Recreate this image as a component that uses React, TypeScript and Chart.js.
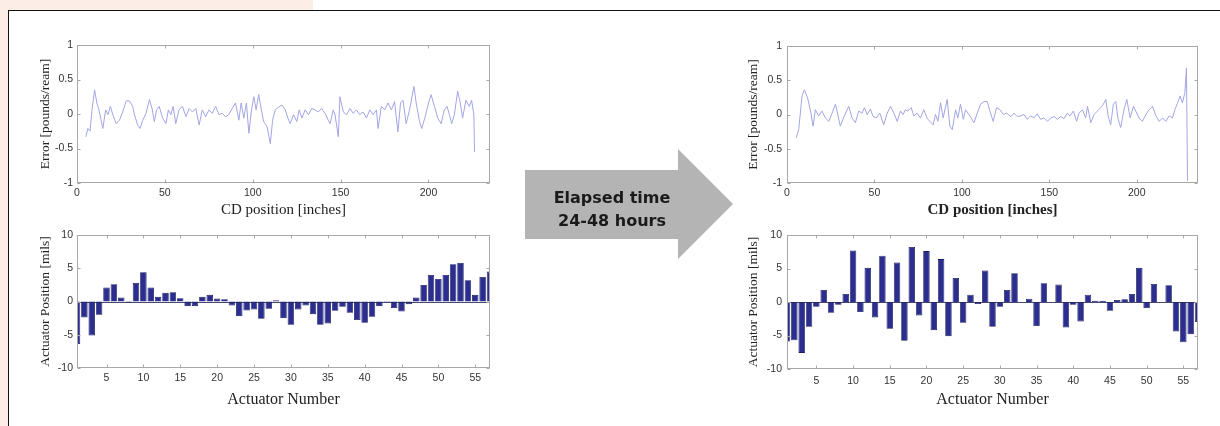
import React, { useEffect, useRef } from "react";
import { Chart, registerables } from "chart.js";
Chart.register(...registerables);

// ---------- tick labels ----------
const ERR_TICKS = [-1, -0.5, 0, 0.5, 1];
const CD_TICKS = [0, 50, 100, 150, 200];
const POS_TICKS = [-10, -5, 0, 5, 10];
const ACT_TICKS = [5, 10, 15, 20, 25, 30, 35, 40, 45, 50, 55];

// ---------- actuator categories ----------
const ACTUATORS = [
  1, 2, 3, 4, 5, 6, 7, 8, 9, 10, 11, 12, 13, 14, 15, 16, 17, 18, 19, 20,
  21, 22, 23, 24, 25, 26, 27, 28, 29, 30, 31, 32, 33, 34, 35, 36, 37, 38, 39, 40,
  41, 42, 43, 44, 45, 46, 47, 48, 49, 50, 51, 52, 53, 54, 55, 56, 57,
];

// actuator positions [mils] before (left) and after 24-48 h (right)
const BEFORE_POSITIONS = [
  -6.4, -2.4, -5.1, -2.0, 2.1, 2.6, 0.6, -0.2, 2.8, 4.4,
  2.1, 0.7, 1.3, 1.4, 0.5, -0.7, -0.7, 0.7, 1.0, 0.45,
  0.35, -0.6, -2.2, -1.35, -1.2, -2.6, -1.1, 0.2, -2.5, -3.5,
  -1.2, -0.6, -1.9, -3.5, -3.3, -1.4, -0.8, -1.7, -2.8, -3.2,
  -2.3, -0.7, -0.1, -1.0, -1.5, -0.4, 0.6, 2.5, 4.0, 3.4,
  4.0, 5.6, 5.8, 3.2, 1.0, 3.7, 4.5,
];
const AFTER_POSITIONS = [
  -5.9, -5.7, -7.6, -3.7, -0.7, 1.8, -1.6, -0.4, 1.2, 7.7,
  -1.5, 5.1, -2.3, 6.9, -4.0, 5.9, -5.8, 8.2, -2.0, 7.6,
  -4.2, 6.4, -5.1, 3.6, -3.1, 1.1, -0.3, 4.7, -3.7, -0.7,
  1.8, 4.3, 0.0, 0.5, -3.6, 2.8, 0.0, 2.6, -3.8, -0.4,
  -2.9, 1.1, 0.2, 0.2, -1.3, 0.3, 0.4, 1.2, 5.1, -0.9,
  2.7, 0.0, 2.5, -4.4, -6.0, -4.8, -3.0,
];

// ---------- CD error profiles ----------
const BEFORE_CD = [
  5.0, 6.2, 7.4, 8.5, 10.0, 11.3, 12.5, 14.7, 16.3, 17.6, 19.0, 20.4, 22.3, 24.2, 26.0,
  28.0, 29.8, 31.7, 32.7, 34.5, 35.9, 37.4, 39.3, 41.2, 42.7, 44.0, 45.3, 46.8, 48.7, 50.6,
  52.0, 53.4, 54.7, 56.2, 58.0, 60.0, 62.0, 63.8, 65.7, 67.6, 69.5, 71.3, 73.2, 75.1, 77.0,
  78.9, 80.8, 82.7, 84.5, 86.4, 88.3, 90.2, 92.1, 93.4, 94.9, 96.4, 97.8, 99.3, 100.6, 101.9,
  103.4, 104.9, 106.2, 108.1, 110.0, 111.3, 112.8, 114.7, 116.6, 118.5, 120.0, 121.3, 123.2, 125.1, 126.4,
  128.0, 129.8, 131.7, 133.6, 135.5, 137.3, 139.2, 141.1, 143.0, 144.0, 145.8, 146.8, 148.7, 149.6, 151.5,
  153.4, 155.3, 157.2, 159.0, 160.9, 162.8, 164.7, 166.6, 168.5, 170.4, 171.3, 173.2, 175.1, 177.0, 178.9,
  180.7, 182.6, 184.1, 185.5, 187.3, 189.2, 191.7, 193.0, 194.9, 196.2, 198.1, 200.0, 201.5, 203.4, 205.3,
  207.2, 209.0, 210.6, 211.9, 213.2, 214.7, 216.6, 218.1, 219.4, 221.3, 223.2, 224.5, 225.8, 226.2,
];
const BEFORE_ERROR = [
  -0.33, -0.21, -0.25, 0.05, 0.35, 0.16, 0.06, -0.21, 0.06, -0.01, 0.11, -0.01, -0.14, -0.09, 0.03,
  0.19, 0.19, 0.11, -0.01, -0.16, -0.21, -0.09, 0.01, 0.21, 0.08, -0.11, 0.06, 0.11, -0.06, -0.14,
  0.06, -0.01, 0.11, -0.14, 0.06, 0.11, -0.04, 0.08, 0.03, 0.08, -0.16, 0.06, -0.04, 0.06, 0.01,
  0.11, -0.01, 0.01, -0.04, -0.01, 0.08, 0.16, -0.09, 0.16, -0.06, 0.16, -0.28, 0.06, 0.25, 0.06,
  0.28, 0.06, -0.11, -0.18, -0.43, -0.09, 0.06, 0.1, 0.13, 0.06, -0.06, -0.14, -0.01, -0.11, 0.06,
  -0.06, 0.06, -0.01, 0.08, 0.06, 0.03, 0.08, 0.01, -0.09, -0.14, 0.06, -0.01, -0.33, 0.25, 0.03,
  -0.01, 0.08, 0.01, 0.06, -0.01, 0.03, -0.06, 0.06, -0.01, 0.06, -0.21, 0.11, 0.06, 0.16, 0.06,
  0.18, -0.26, 0.16, 0.2, -0.14, 0.06, 0.4, 0.16, -0.11, -0.21, -0.04, 0.16, 0.28, 0.11, -0.06,
  -0.14, 0.06, 0.11, -0.01, -0.14, -0.01, 0.33, 0.16, -0.06, 0.2, 0.11, 0.2, 0.0, -0.55,
];
const AFTER_CD = [
  5.3, 6.7, 8.6, 9.9, 11.8, 13.7, 14.9, 16.2, 18.1, 20.0, 21.9, 23.9, 25.8, 27.7, 28.6,
  30.5, 32.8, 35.3, 37.2, 39.1, 41.0, 42.9, 44.3, 45.8, 47.7, 49.2, 51.1, 53.1, 55.3, 57.3,
  59.2, 61.1, 63.0, 64.9, 66.4, 67.7, 69.1, 71.0, 72.5, 74.4, 76.3, 78.2, 80.2, 81.7, 83.6,
  84.9, 86.3, 87.8, 89.3, 91.6, 93.1, 94.5, 96.4, 97.7, 99.2, 100.8, 102.1, 104.0, 105.3, 106.9,
  108.8, 110.7, 112.6, 114.5, 116.0, 117.9, 119.8, 121.8, 123.7, 125.6, 127.9, 129.8, 131.7, 133.6, 135.5,
  137.4, 139.3, 141.2, 143.1, 145.0, 147.0, 148.9, 150.8, 152.7, 154.6, 156.5, 158.4, 160.3, 161.8, 163.7,
  165.6, 167.0, 168.9, 170.8, 171.8, 173.7, 175.6, 177.5, 179.4, 180.9, 182.3, 183.6, 185.1, 186.6, 188.0,
  189.3, 190.8, 192.7, 194.3, 196.2, 198.1, 199.4, 201.3, 203.2, 205.2, 207.1, 209.0, 210.9, 212.8, 214.7,
  216.6, 218.5, 220.4, 221.8, 223.3, 224.8, 226.1, 227.5, 228.4, 229.0,
];
const AFTER_ERROR = [
  -0.34, -0.22, 0.27, 0.36, 0.24, 0.02, -0.17, 0.07, -0.02, 0.05, -0.05, -0.1, 0.02, 0.15, 0.05,
  -0.17, -0.02, 0.12, -0.05, -0.12, 0.05, 0.02, 0.1, 0.0, 0.08, -0.03, -0.05, 0.02, -0.15, 0.02,
  0.12, 0.02, -0.1, 0.05, 0.0, 0.07, 0.05, 0.1, -0.02, 0.02, -0.05, 0.07, -0.06, -0.1, -0.15,
  0.0, -0.1, 0.17, -0.05, 0.22, -0.17, -0.22, 0.07, -0.05, 0.15, -0.07, 0.07, 0.0, -0.05, -0.12,
  0.02, 0.15, 0.19, 0.19, 0.05, -0.1, 0.1, 0.07, 0.0, 0.02, -0.03, 0.02, -0.03, -0.02, 0.0,
  -0.07, -0.02, -0.05, 0.01, -0.07, -0.05, -0.1, -0.05, -0.03, -0.07, -0.03, -0.06, 0.02, -0.02, 0.05,
  -0.1, 0.02, 0.07, -0.05, 0.12, -0.12, 0.0, 0.05, 0.1, 0.15, 0.22, -0.02, -0.15, 0.15, 0.19,
  -0.07, -0.19, 0.07, 0.22, -0.05, 0.12, 0.05, -0.05, -0.1, 0.0, 0.07, 0.12, -0.02, -0.1, -0.05,
  -0.1, -0.02, -0.05, 0.07, 0.17, 0.27, 0.17, 0.32, 0.68, -0.97,
];

// ---------- styling ----------
const TICK_FONT = { family: "'Liberation Sans', Arial, sans-serif", size: 10.5 };
const SERIF = "'Liberation Serif', 'Times New Roman', serif";
const LINE_COLOR = "#a2a5e4";
const BAR_FILL = "#2b2e8e";
const BAR_EDGE = "#1a1c62";

const matlabBox = {
  id: "matlabBox",
  afterDatasetsDraw(chart: any, _args: any, opts: any) {
    const { ctx, chartArea: a, scales } = chart;
    ctx.save();
    if (opts && opts.baseline) {
      const y0 = Math.round(scales.y.getPixelForValue(0)) + 0.5;
      ctx.strokeStyle = "rgba(40,40,90,0.85)";
      ctx.lineWidth = 1;
      ctx.beginPath();
      ctx.moveTo(a.left, y0);
      ctx.lineTo(a.right, y0);
      ctx.stroke();
    }
    ctx.strokeStyle = "#a8a8a8";
    ctx.lineWidth = 1;
    const l = Math.round(a.left) + 0.5;
    const r = Math.round(a.right) - 0.5;
    const t = Math.round(a.top) + 0.5;
    const b = Math.round(a.bottom) - 0.5;
    ctx.strokeRect(l, t, r - l, b - t);
    const L = 3;
    ctx.beginPath();
    scales.x.ticks.forEach((tk: any) => {
      const x = Math.round(scales.x.getPixelForValue(tk.value)) + 0.5;
      ctx.moveTo(x, b);
      ctx.lineTo(x, b - L);
      ctx.moveTo(x, t);
      ctx.lineTo(x, t + L);
    });
    scales.y.ticks.forEach((tk: any) => {
      const y = Math.round(scales.y.getPixelForValue(tk.value)) + 0.5;
      ctx.moveTo(l, y);
      ctx.lineTo(l + L, y);
      ctx.moveTo(r, y);
      ctx.lineTo(r - L, y);
    });
    ctx.stroke();
    ctx.restore();
  },
};

type Spec = {
  left: number; top: number; width: number; height: number;
  padTop: number; padRight: number; yWidth: number; xHeight: number;
  yTitle: string; xTitle: string; xTitleBold?: boolean;
  yTitleSize: number; xTitleSize: number;
  yTitlePad: number; xTitlePad: number; xTickPad: number; yTickPad: number;
};

const plain = (v: any) => String(v);

function axes(spec: Spec, xMin: number, xMax: number, xTicks: number[], yMin: number, yMax: number, yTicks: number[]) {
  return {
    x: {
      type: "linear",
      offset: false,
      min: xMin,
      max: xMax,
      afterBuildTicks: (s: any) => { s.ticks = xTicks.map((v) => ({ value: v })); },
      afterFit: (s: any) => { s.height = spec.xHeight; },
      grid: { display: false, drawTicks: false, offset: false },
      border: { display: false },
      ticks: { font: TICK_FONT, color: "#333", padding: spec.xTickPad, maxRotation: 0, autoSkip: false, callback: plain },
      title: {
        display: true,
        text: spec.xTitle,
        color: "#222",
        font: { family: SERIF, size: spec.xTitleSize, weight: spec.xTitleBold ? "bold" : "normal" },
        padding: { top: 0, bottom: spec.xTitlePad },
      },
    },
    y: {
      type: "linear",
      min: yMin,
      max: yMax,
      afterBuildTicks: (s: any) => { s.ticks = yTicks.map((v) => ({ value: v })); },
      afterFit: (s: any) => { s.width = spec.yWidth; },
      grid: { display: false, drawTicks: false },
      border: { display: false },
      ticks: { font: TICK_FONT, color: "#333", padding: spec.yTickPad, autoSkip: false, callback: plain },
      title: {
        display: true,
        text: spec.yTitle,
        color: "#222",
        font: { family: SERIF, size: spec.yTitleSize },
        padding: { top: spec.yTitlePad, bottom: 0 },
      },
    },
  };
}

function lineConfig(spec: Spec, cd: number[], err: number[]) {
  return {
    type: "line",
    data: {
      datasets: [
        {
          data: cd.map((x, i) => ({ x, y: err[i] })),
          borderColor: LINE_COLOR,
          borderWidth: 1,
          pointRadius: 0,
          tension: 0,
          clip: 0,
        },
      ],
    },
    options: {
      animation: false,
      responsive: false,
      layout: { padding: { top: spec.padTop, right: spec.padRight, left: 0, bottom: 0 } },
      plugins: { legend: { display: false }, tooltip: { enabled: false }, matlabBox: { baseline: false } },
      scales: axes(spec, 0, 235, CD_TICKS, -1, 1, ERR_TICKS),
    },
    plugins: [matlabBox],
  };
}

function barConfig(spec: Spec, values: number[]) {
  return {
    type: "bar",
    data: {
      datasets: [
        {
          data: ACTUATORS.map((x, i) => ({ x, y: values[i] })),
          backgroundColor: BAR_FILL,
          borderColor: BAR_EDGE,
          borderWidth: 0.8,
          barPercentage: 1,
          categoryPercentage: 0.88,
          clip: 0,
        },
      ],
    },
    options: {
      animation: false,
      responsive: false,
      layout: { padding: { top: spec.padTop, right: spec.padRight, left: 0, bottom: 0 } },
      plugins: { legend: { display: false }, tooltip: { enabled: false }, matlabBox: { baseline: true } },
      scales: axes(spec, 1, 57, ACT_TICKS, -10, 10, POS_TICKS),
    },
    plugins: [matlabBox],
  };
}

function Panel({ spec, config }: { spec: Spec; config: any }) {
  const ref = useRef<HTMLCanvasElement>(null);
  useEffect(() => {
    const chart = new Chart(ref.current as HTMLCanvasElement, config);
    return () => chart.destroy();
  }, []);
  return (
    <canvas
      ref={ref}
      width={spec.width}
      height={spec.height}
      style={{ position: "absolute", left: spec.left, top: spec.top, width: spec.width, height: spec.height, display: "block" }}
    />
  );
}

const TL: Spec = {
  left: 20, top: 30, width: 480, height: 192, padTop: 15, padRight: 10, yWidth: 57, xHeight: 39,
  yTitle: "Error [pounds/ream]", xTitle: "CD position [inches]", yTitleSize: 13.5, xTitleSize: 15,
  yTitlePad: 17, xTitlePad: 3, xTickPad: 4, yTickPad: 4,
};
const TR: Spec = {
  left: 720, top: 30, width: 490, height: 192, padTop: 16, padRight: 12, yWidth: 67, xHeight: 39,
  yTitle: "Error [pounds/ream]", xTitle: "CD position [inches]", xTitleBold: true, yTitleSize: 13.5, xTitleSize: 15,
  yTitlePad: 25, xTitlePad: 3, xTickPad: 4, yTickPad: 5,
};
const BL: Spec = {
  left: 20, top: 220, width: 480, height: 200, padTop: 15, padRight: 10, yWidth: 57, xHeight: 52,
  yTitle: "Actuator Position [mils]", xTitle: "Actuator Number", yTitleSize: 13.5, xTitleSize: 16,
  yTitlePad: 17, xTitlePad: 11, xTickPad: 4, yTickPad: 4,
};
const BR: Spec = {
  left: 720, top: 220, width: 490, height: 200, padTop: 15, padRight: 12, yWidth: 67, xHeight: 51,
  yTitle: "Actuator Position [mils]", xTitle: "Actuator Number", yTitleSize: 13.5, xTitleSize: 16,
  yTitlePad: 25, xTitlePad: 11, xTickPad: 6, yTickPad: 5,
};

export default function App() {
  return (
    <div style={{ position: "absolute", left: 0, top: 0, width: 1220, height: 426, background: "#fff", overflow: "hidden" }}>
      {/* peach tab and strip */}
      <div style={{ position: "absolute", left: 0, top: 0, width: 313, height: 10, background: "#fcede6" }} />
      <div style={{ position: "absolute", left: 0, top: 0, width: 8, height: 426, background: "#fcede6" }} />
      {/* frame */}
      <div style={{ position: "absolute", left: 8, top: 10, width: 1212, height: 1, background: "#111" }} />
      <div style={{ position: "absolute", left: 8, top: 10, width: 1, height: 416, background: "#111" }} />

      <Panel spec={TL} config={lineConfig(TL, BEFORE_CD, BEFORE_ERROR)} />
      <Panel spec={BL} config={barConfig(BL, BEFORE_POSITIONS)} />
      <Panel spec={TR} config={lineConfig(TR, AFTER_CD, AFTER_ERROR)} />
      <Panel spec={BR} config={barConfig(BR, AFTER_POSITIONS)} />

      {/* arrow */}
      <svg width={1220} height={426} style={{ position: "absolute", left: 0, top: 0, pointerEvents: "none" }}>
        <polygon points="525,170 678,170 678,149 733,204 678,259 678,239 525,239" fill="#b4b4b4" />
        <text x={612} y={203} textAnchor="middle" fontFamily="'DejaVu Sans', sans-serif" fontWeight="bold" fontSize={16} fill="#1a1a1a">
          Elapsed time
        </text>
        <text x={612} y={226} textAnchor="middle" fontFamily="'DejaVu Sans', sans-serif" fontWeight="bold" fontSize={16} fill="#1a1a1a">
          24-48 hours
        </text>
      </svg>
    </div>
  );
}
